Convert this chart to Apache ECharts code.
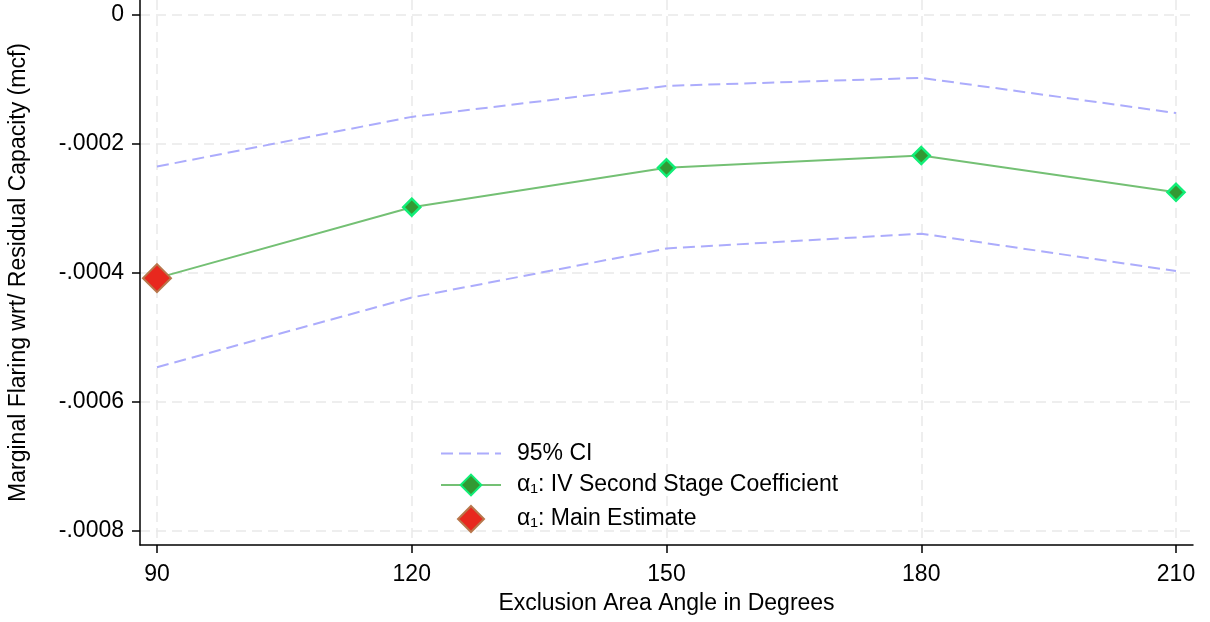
<!DOCTYPE html>
<html>
<head>
<meta charset="utf-8">
<script src="https://cdn.jsdelivr.net/npm/echarts@6/dist/echarts.min.js"></script>
<style>html,body{margin:0;padding:0;background:#fff;}#c{width:1210px;height:622px;}</style>
</head>
<body>
<div id="c"></div>
<script>
var angles = [90, 120, 150, 180, 210];
var ciUpper = [-0.000235, -0.000158, -0.000110, -0.0000975, -0.000152];
var coef = [-0.000408, -0.000298, -0.000237, -0.000218, -0.000275];
var ciLower = [-0.000546, -0.000438, -0.000362, -0.000339, -0.000397];
var mainEstimate = [[90, -0.000408]];
var xTicks = [90, 120, 150, 180, 210];
var yTicks = [0, -0.0002, -0.0004, -0.0006, -0.0008];

function pairs(xs, ys){ return xs.map(function(x,i){ return [x, ys[i]]; }); }
function fmtY(v){ if (Math.abs(v) < 1e-12) return '0'; return v.toFixed(4).replace('0.', '.'); }

var FONT = 'Liberation Sans';
var FS = 23;
var chart = echarts.init(document.getElementById('c'), null, {renderer:'canvas'});
var gridLine = {show:true, lineStyle:{color:'#e9e9e9', type:[10,6], width:1.5}};
chart.setOption({
  animation:false,
  backgroundColor:'#ffffff',
  textStyle:{fontFamily:FONT},
  grid:{left:140, right:17, top:0, bottom:77, containLabel:false, outerBoundsMode:'none'},
  xAxis:{
    type:'value', min:88, max:212,
    name:'Exclusion Area Angle in Degrees', nameLocation:'middle', nameGap:47,
    nameTextStyle:{fontSize:FS, color:'#000', fontFamily:FONT},
    axisLine:{show:true, onZero:false, lineStyle:{color:'#000', width:1.5}},
    axisTick:{show:true, customValues:xTicks, length:8, lineStyle:{color:'#000', width:1.5}},
    axisLabel:{customValues:xTicks, fontSize:FS, color:'#000', margin:18, fontFamily:FONT},
    splitLine:gridLine
  },
  yAxis:{
    type:'value', min:-0.0008217, max:0.0000232,
    name:'Marginal Flaring wrt/ Residual Capacity (mcf)', nameLocation:'middle', nameGap:110,
    nameRotate:90,
    nameTextStyle:{fontSize:FS, color:'#000', fontFamily:FONT},
    axisLine:{show:true, onZero:false, lineStyle:{color:'#000', width:1.5}},
    axisTick:{show:true, customValues:yTicks, length:8, lineStyle:{color:'#000', width:1.5}},
    axisLabel:{customValues:yTicks, fontSize:FS, color:'#000', margin:16, fontFamily:FONT, formatter:fmtY},
    splitLine:gridLine
  },
  legend:{
    orient:'vertical', left:435, top:437,
    itemWidth:60, itemHeight:26, itemGap:8.5, symbolKeepAspect:true,
    textStyle:{fontSize:FS, color:'#000', fontFamily:FONT, padding:[0,0,0,11]},
    data:[
      {name:'95% CI', itemStyle:{opacity:0}},
      'α\u2081: IV Second Stage Coefficient',
      {name:'α\u2081: Main Estimate', icon:'path://M1,0L2,1L1,2L0,1Z'}
    ]
  },
  series:[
    {type:'line', name:'95% CI', data:pairs(angles, ciUpper), symbol:'none',
     lineStyle:{color:'#acacfc', width:2, type:[12,6]}, itemStyle:{color:'#acacfc'}},
    {type:'line', name:'95% CI', data:pairs(angles, ciLower), symbol:'none',
     lineStyle:{color:'#acacfc', width:2, type:[12,6]}, itemStyle:{color:'#acacfc'}},
    {type:'line', name:'α\u2081: IV Second Stage Coefficient', data:pairs(angles, coef),
     symbol:'diamond', symbolSize:17, showAllSymbol:true,
     lineStyle:{color:'#74c074', width:2},
     itemStyle:{color:'#339933', borderColor:'#11ee77', borderWidth:2.5}},
    {type:'scatter', name:'α\u2081: Main Estimate', data:mainEstimate,
     symbol:'diamond', symbolSize:28,
     itemStyle:{color:'#e8281e', borderColor:'#b8774c', borderWidth:2, opacity:1}, z:5}
  ]
});
</script>
</body>
</html>
